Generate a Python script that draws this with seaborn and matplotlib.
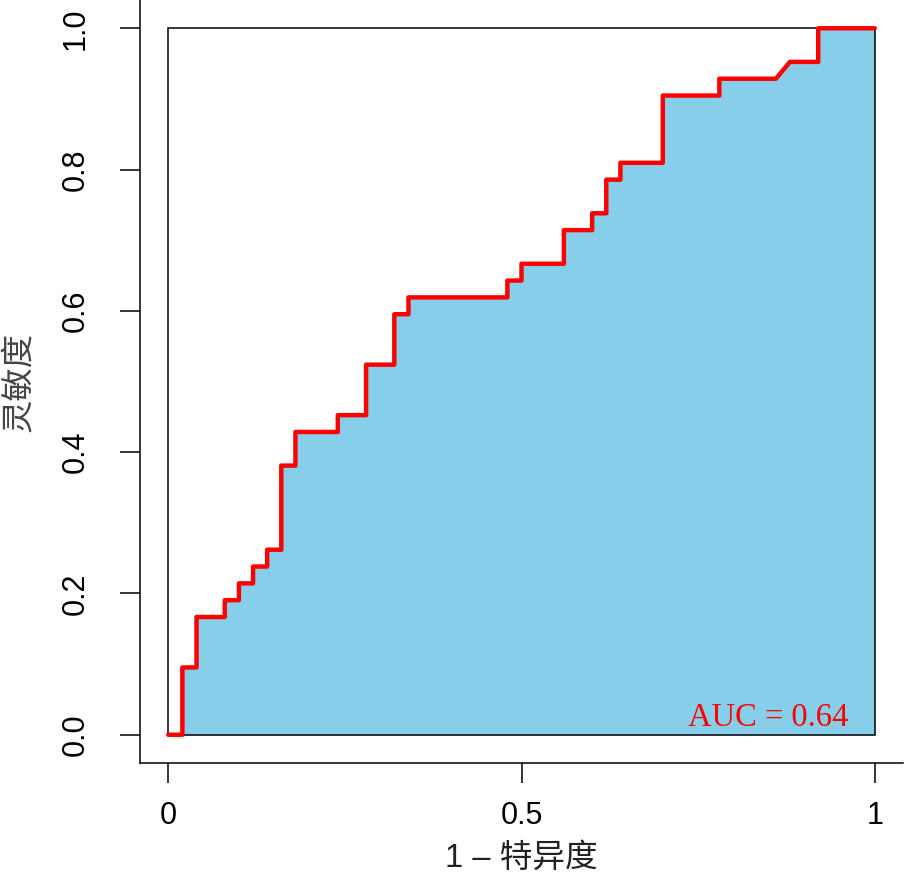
import numpy as np
import pandas as pd
import matplotlib
matplotlib.use("Agg")
import matplotlib.pyplot as plt
import matplotlib.patches as mpatches
import seaborn as sns

# curva ROC: 1 - especificidad (50 negativos) y sensibilidad (42 positivos)
fpr = [0.00, 0.02, 0.02, 0.04, 0.04, 0.08, 0.08, 0.10, 0.10, 0.12, 0.12,
       0.14, 0.14, 0.16, 0.16, 0.18, 0.18, 0.24, 0.24, 0.28, 0.28, 0.32,
       0.32, 0.34, 0.34, 0.48, 0.48, 0.50, 0.50, 0.56, 0.56, 0.60, 0.60,
       0.62, 0.62, 0.64, 0.64, 0.70, 0.70, 0.78, 0.78, 0.86, 0.88, 0.92,
       0.92, 1.00]
tp_count = [0, 0, 4, 4, 7, 7, 8, 8, 9, 9, 10,
            10, 11, 11, 16, 16, 18, 18, 19, 19, 22, 22,
            25, 25, 26, 26, 27, 27, 28, 28, 30, 30, 31,
            31, 33, 33, 34, 34, 38, 38, 39, 39, 40, 40,
            42, 42]
n_pos = 42
auc_text = "AUC = 0.64"

x_ticks = [0, 0.5, 1]
x_ticklabels = ["0", "0.5", "1"]
y_ticks = [0.0, 0.2, 0.4, 0.6, 0.8, 1.0]
y_ticklabels = ["0.0", "0.2", "0.4", "0.6", "0.8", "1.0"]

df = pd.DataFrame({"fpr": fpr, "tpr": np.array(tp_count) / n_pos})

sns.set_theme(style="ticks")
plt.rcParams["font.family"] = ["Liberation Sans", "Noto Sans CJK SC", "DejaVu Sans"]

fig = plt.figure(figsize=(9.07, 8.82), dpi=100)
ax = fig.add_axes([140 / 907, 119 / 882, 763 / 907, 763 / 882])

# relleno bajo la curva
ax.fill_between(df["fpr"], df["tpr"], 0, color="#87CEEB", linewidth=0, zorder=1)
ax.add_patch(mpatches.Rectangle((0, 0), 1, 1, fill=False, edgecolor="black",
                                linewidth=1.1, zorder=2))
sns.lineplot(data=df, x="fpr", y="tpr", sort=False, estimator=None,
             color="red", linewidth=3.2, ax=ax, zorder=3)

ax.text(0.962, 0.013, auc_text, color="red", fontsize=23.5,
        family="Liberation Serif", ha="right", va="baseline")

ax.set_xlim(-0.04, 1.04)
ax.set_ylim(-0.04, 1.04)
ax.set_xticks(x_ticks)
ax.set_xticklabels(x_ticklabels)
ax.set_yticks(y_ticks)
ax.set_yticklabels(y_ticklabels, rotation=90, va="center")
ax.tick_params(axis="both", length=14.4, width=1.1, color="black",
               labelsize=22, labelcolor="black")
ax.tick_params(axis="x", pad=13)
ax.tick_params(axis="y", pad=21)

sns.despine(ax=ax)
for side in ["left", "bottom"]:
    ax.spines[side].set_linewidth(1.1)
    ax.spines[side].set_color("black")

ax.set_xlabel("1 – 特异度", fontsize=23.5, color="#222222", va="center")
ax.set_ylabel("灵敏度", fontsize=24, color="#444444", va="center",
              family=["Noto Sans CJK SC", "DejaVu Sans"])
ax.xaxis.set_label_coords(0.5, -0.1245)
ax.yaxis.set_label_coords(-0.1586, 0.5)

fig.savefig("out.png", dpi=100)
